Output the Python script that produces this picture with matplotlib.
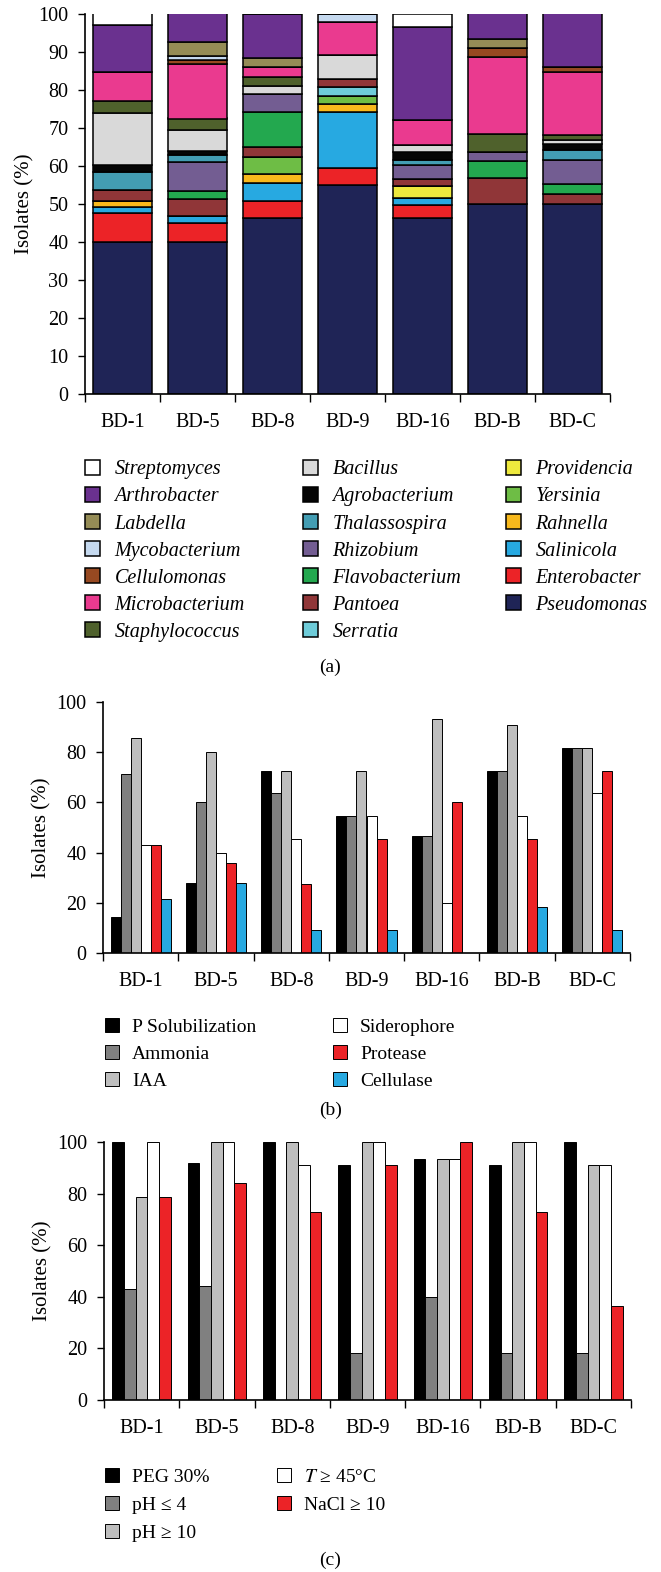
import numpy as np
import matplotlib
matplotlib.use('Agg')
import matplotlib.pyplot as plt

plt.rcParams['font.family'] = ['Liberation Serif', 'DejaVu Serif']
plt.rcParams['mathtext.fontset'] = 'stix'

sites = ['BD-1', 'BD-5', 'BD-8', 'BD-9', 'BD-16', 'BD-B', 'BD-C']

# panel (a): genus composition, stacked bottom -> top
genera = ['Pseudomonas', 'Enterobacter', 'Salinicola', 'Rahnella', 'Yersinia',
          'Providencia', 'Serratia', 'Pantoea', 'Flavobacterium', 'Rhizobium',
          'Thalassospira', 'Agrobacterium', 'Bacillus', 'Staphylococcus',
          'Microbacterium', 'Cellulomonas', 'Mycobacterium', 'Labdella',
          'Arthrobacter', 'Streptomyces']
genus_colors = ['#1F2456', '#EC2327', '#27A9E1', '#F8B91C', '#6EBD45',
                '#EEE93D', '#6ECCD9', '#903638', '#23A84F', '#735D92',
                '#439DB3', '#050505', '#D9D9D9', '#4F612C',
                '#EA3A8F', '#974921', '#C5D9EF', '#958C56',
                '#6A318F', '#FFFFFF']
#                 BD-1  BD-5  BD-8  BD-9  BD-16 BD-B  BD-C
pseudomonas    = [40.0, 40.0, 46.2, 55.0, 46.3, 50.0, 50.0]
enterobacter   = [7.7,  4.9,  4.7,  4.4,  3.5,  0,    0]
salinicola     = [1.5,  1.9,  4.6,  14.9, 1.7,  0,    0]
rahnella       = [1.7,  0,    2.4,  2.0,  0,    0,    0]
yersinia       = [0,    0,    4.6,  2.2,  0,    0,    0]
providencia    = [0,    0,    0,    0,    3.3,  0,    0]
serratia       = [0,    0,    0,    2.2,  0,    0,    0]
pantoea        = [2.9,  4.6,  2.4,  2.2,  1.8,  6.9,  2.7]
flavobacterium = [0,    2.0,  9.4,  0,    0,    4.5,  2.6]
rhizobium      = [0,    7.7,  4.6,  0,    3.7,  2.3,  6.4]
thalassospira  = [4.7,  1.7,  0,    0,    1.4,  0,    2.4]
agrobacterium  = [1.7,  1.1,  0,    0,    1.9,  0,    1.6]
bacillus       = [13.8, 5.7,  2.2,  6.4,  1.8,  0,    1.1]
staphylococcus = [3.1,  2.9,  2.4,  0,    0,    4.6,  1.3]
microbacterium = [7.7,  14.4, 2.5,  8.5,  6.8,  20.4, 16.7]
cellulomonas   = [0,    1.1,  0,    0,    0,    2.4,  1.3]
mycobacterium  = [0,    0.9,  0,    2.2,  0,    0,    0]
labdella       = [0,    3.8,  2.3,  0,    0,    2.2,  0]
arthrobacter   = [12.4, 7.6,  11.7, 0,    24.3, 7.0,  14.2]
streptomyces   = [3.1,  0,    0,    0,    3.5,  0,    0]
genus_values = [pseudomonas, enterobacter, salinicola, rahnella, yersinia,
                providencia, serratia, pantoea, flavobacterium, rhizobium,
                thalassospira, agrobacterium, bacillus, staphylococcus,
                microbacterium, cellulomonas, mycobacterium, labdella,
                arthrobacter, streptomyces]

# panel (b): plant growth promoting traits
traits = ['P Solubilization', 'Ammonia', 'IAA', 'Siderophore', 'Protease', 'Cellulase']
trait_colors = ['#000000', '#808080', '#BEBEBE', '#FFFFFF', '#EC2327', '#27A9E1']
p_solub     = [14.3, 28, 72.7, 54.5, 46.7, 72.7, 81.8]
ammonia     = [71.4, 60, 63.6, 54.5, 46.7, 72.7, 81.8]
iaa         = [85.7, 80, 72.7, 72.7, 93.3, 90.9, 81.8]
siderophore = [42.9, 40, 45.5, 54.5, 20.0, 54.5, 63.6]
protease    = [42.9, 36, 27.3, 45.5, 60.0, 45.5, 72.7]
cellulase   = [21.4, 28, 9.1,  9.1,  0,    18.2, 9.1]
trait_values = [p_solub, ammonia, iaa, siderophore, protease, cellulase]

# panel (c): stress tolerance
stresses = ['PEG 30%', 'pH \u2264 4', 'pH \u2265 10', '$T$ \u2265 45\u00b0C', 'NaCl \u2265 10']
stress_colors = ['#000000', '#808080', '#BEBEBE', '#FFFFFF', '#EC2327']
peg    = [100, 92, 100, 90.9, 93.3, 90.9, 100]
ph4    = [42.9, 44, 0, 18.2, 40.0, 18.2, 18.2]
ph10   = [78.6, 100, 100, 100, 93.3, 100, 90.9]
temp45 = [100, 100, 90.9, 100, 93.3, 100, 90.9]
nacl   = [78.6, 84, 72.7, 90.9, 100, 72.7, 36.4]
stress_values = [peg, ph4, ph10, temp45, nacl]

W, H = 661, 1572
fig = plt.figure(figsize=(W / 100, H / 100), dpi=100)


def px_axes(left, top, right, bottom):
    return fig.add_axes([left / W, 1 - bottom / H, (right - left) / W, (bottom - top) / H])


def style_axes(ax, ystep, label_x):
    n = len(sites)
    ax.set_xlim(-0.5, n - 0.5)
    ax.set_ylim(0, 100)
    ax.set_yticks(np.arange(0, 101, ystep))
    ax.set_xticks(np.arange(n + 1) - 0.5)
    ax.set_xticklabels([])
    ax.set_xticks(np.arange(n), minor=True)
    ax.set_xticklabels(sites, minor=True, fontsize=14.5)
    ax.tick_params(axis='x', which='minor', length=0, pad=13.5)
    ax.tick_params(axis='x', which='major', length=6, width=1, direction='out')
    ax.tick_params(axis='y', length=5, width=1, direction='out', labelsize=14.5, pad=7)
    for s in ['top', 'right']:
        ax.spines[s].set_visible(False)
    for s in ['left', 'bottom']:
        ax.spines[s].set_linewidth(1.2)
    ax.set_ylabel('Isolates (%)', fontsize=15)
    ax.yaxis.set_label_coords(label_x, 0.5)


def make_legend(handles, labels, x, y, spacing, size=14, italic=False, pad=0.67, hl=0.72):
    fig.legend(handles, labels, loc='upper left', bbox_to_anchor=(x / W, 1 - y / H),
               frameon=False, handlelength=hl, handleheight=hl,
               handletextpad=pad, labelspacing=spacing, borderaxespad=0, borderpad=0,
               prop={'style': 'italic' if italic else 'normal', 'size': size})


x = np.arange(len(sites))

# ---- (a)
ax = px_axes(85, 14, 610, 394)
bottom = np.zeros(len(sites))
bars_a = []
for vals, col in zip(genus_values, genus_colors):
    b = ax.bar(x, vals, width=0.78, bottom=bottom, color=col, edgecolor='black', linewidth=1.1)
    bars_a.append(b)
    bottom += np.array(vals)
style_axes(ax, 10, -0.097)

hand = bars_a[::-1]
labs = genera[::-1]
for (i0, i1), xl in zip([(0, 7), (7, 14), (14, 20)], [85, 303, 506]):
    make_legend(hand[i0:i1], labs[i0:i1], xl, 460, 0.38, size=14.5, italic=True,
                pad=0.72, hl=0.75)
fig.text(0.5, 1 - 667 / H, '(a)', ha='center', va='center', fontsize=14)

# ---- (b)
ax = px_axes(103, 702, 630, 953)
w = 0.133
bars_b = []
for i, (vals, col) in enumerate(zip(trait_values, trait_colors)):
    b = ax.bar(x + (i - 2.5) * w, vals, width=w, color=col, edgecolor='black', linewidth=0.7)
    bars_b.append(b)
style_axes(ax, 20, -0.097)
make_legend(bars_b[0:3], traits[0:3], 105, 1018, 0.48)
make_legend(bars_b[3:6], traits[3:6], 333, 1018, 0.48)
fig.text(0.5, 1 - 1110 / H, '(b)', ha='center', va='center', fontsize=14)

# ---- (c)
ax = px_axes(104, 1142, 631, 1400)
w = 0.155
bars_c = []
for i, (vals, col) in enumerate(zip(stress_values, stress_colors)):
    b = ax.bar(x + (i - 2) * w, vals, width=w, color=col, edgecolor='black', linewidth=0.7)
    bars_c.append(b)
style_axes(ax, 20, -0.097)
make_legend(bars_c[0:3], stresses[0:3], 105, 1468, 0.54)
make_legend(bars_c[3:5], stresses[3:5], 277, 1468, 0.54)
fig.text(0.5, 1 - 1560 / H, '(c)', ha='center', va='center', fontsize=14)

fig.savefig('out.png', dpi=100)
